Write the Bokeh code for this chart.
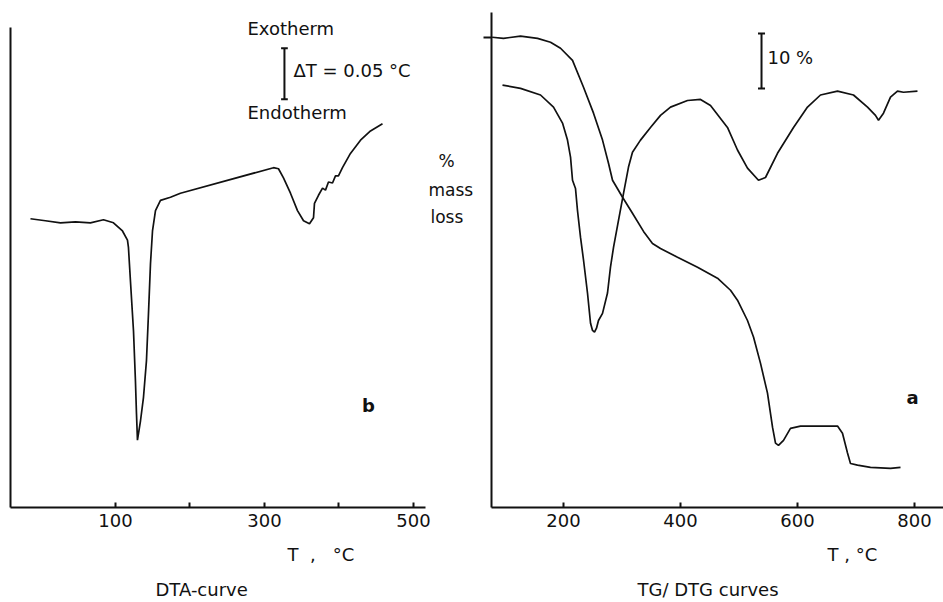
from bokeh.plotting import figure
from bokeh.layouts import row
from bokeh.models import Range1d, FixedTicker, Title
from bokeh.core.properties import value
from bokeh.embed import file_html
from bokeh.resources import INLINE

# ---------------- data: DTA curve (panel b) ----------------
dta_T = [-14.1, 6.0, 26.2, 46.3, 66.4, 83.9, 97.3, 109.4, 116.1, 117.4, 120.1, 124.2,
         126.8, 128.2, 129.5, 133.6, 137.6, 141.6, 144.3, 147.0, 149.7, 153.7, 160.4,
         173.8, 187.2, 312.1, 318.8, 325.5, 334.9, 344.3, 352.4, 360.4, 365.8, 367.1,
         372.5, 377.9, 381.9, 385.9, 391.3, 395.3, 399.3, 404.7, 415.4, 428.9, 442.3, 458.4]
dta_dT = [0.283, 0.281, 0.279, 0.280, 0.279, 0.282, 0.279, 0.271, 0.262, 0.255, 0.222, 0.173,
          0.124, 0.092, 0.066, 0.085, 0.108, 0.144, 0.190, 0.239, 0.271, 0.291, 0.301,
          0.304, 0.308, 0.333, 0.332, 0.323, 0.308, 0.291, 0.281, 0.278, 0.284, 0.298,
          0.306, 0.313, 0.311, 0.319, 0.318, 0.325, 0.325, 0.333, 0.347, 0.360, 0.369, 0.376]
dta_ticks = [100, 200, 300, 400, 500]
dta_tick_labels = {100: "100", 200: "", 300: "300", 400: "", 500: "500"}
dta_axis_T = (-40.9, 516.1)
dta_axis_dT = (0.0, 0.4706)

# ---------------- data: TG / DTG curves (panel a) ----------------
tg_T = [78, 97.4, 126.5, 155.6, 177.8, 194.9, 215.4, 234.2, 251.3, 266.7, 276.9, 283.8,
        300.9, 317.9, 336.8, 352.1, 365.8, 394.9, 429.1, 463.2, 485.5, 497.4, 514.5,
        524.8, 536.8, 548.7, 557.3, 562.4, 567.5, 576.1, 588.0, 605.1, 639.3, 668.4,
        676.9, 685.5, 690.6, 702.6, 724.8, 759.0, 776.1]
tg_mass = [100.0, 99.8, 100.2, 99.8, 99.1, 98.0, 95.8, 90.9, 86.2, 81.3, 77.1, 74.0,
           70.9, 68.0, 64.7, 62.5, 61.6, 60.0, 58.2, 56.2, 54.0, 52.2, 48.5,
           45.5, 40.7, 35.3, 29.1, 26.2, 25.8, 26.7, 28.9, 29.3, 29.3, 29.3,
           28.0, 24.4, 22.5, 22.2, 21.8, 21.6, 21.8]
dtg_T = [95.7, 126.5, 160.7, 182.9, 198.3, 206.8, 212.0, 215.4, 220.5, 223.9, 229.1, 234.2,
         241.0, 246.2, 249.6, 253.0, 256.4, 259.8, 266.7, 275.2, 280.3, 285.5, 294.0,
         302.6, 311.1, 317.9, 331.6, 348.7, 365.8, 382.9, 412.0, 434.2, 451.3, 480.3,
         497.4, 514.5, 533.3, 545.3, 565.8, 593.2, 617.1, 639.3, 668.4, 695.7, 719.7,
         733.3, 738.5, 747.0, 759.0, 770.9, 781.2, 805.1]
dtg_val = [91.3, 90.7, 89.5, 87.3, 84.4, 81.3, 78.2, 74.0, 72.5, 68.5, 63.6, 59.5,
           53.5, 48.0, 46.7, 46.4, 47.1, 48.5, 49.8, 53.5, 58.2, 61.8, 66.7,
           71.6, 76.4, 79.1, 81.3, 83.6, 85.8, 87.3, 88.5, 88.7, 87.6, 83.6,
           79.5, 76.2, 74.0, 74.5, 78.9, 83.6, 87.3, 89.5, 90.2, 89.5, 87.3,
           85.8, 84.9, 86.2, 89.1, 90.2, 90.0, 90.2]
tg_ticks = [200, 400, 600, 800]

# scale bars
DT_BAR = 0.05     # degC
MASS_BAR = 10.0   # %

FONT = "DejaVu Sans"
INK = "#111111"
NB = "\u00a0"


def style(p):
    p.grid.visible = False
    p.outline_line_color = None
    p.background_fill_color = "white"
    p.border_fill_color = "white"
    for ax in (p.xaxis[0], p.yaxis[0]):
        ax.axis_line_width = 2
        ax.axis_line_color = INK
        ax.major_tick_line_color = INK
        ax.major_tick_line_width = 2
        ax.minor_tick_line_color = None
        ax.major_label_text_font = FONT
        ax.major_label_text_color = INK
        ax.major_label_text_font_style = "normal"
    p.xaxis.major_tick_in = 5
    p.xaxis.major_tick_out = 0
    p.xaxis.major_label_text_font_size = "18px"
    p.xaxis.major_label_standoff = 6


def txt(p, x, y, text, size="18px", style_="normal", align="left"):
    p.text([x], [y], text=[text], text_font=value(FONT), text_font_size=value(size),
           text_font_style=style_, text_color=INK, text_align=align,
           text_baseline="middle")


def caption(p, text, offset, standoff):
    p.add_layout(Title(text=text, align="left", offset=offset, standoff=standoff,
                       text_font=FONT, text_font_size="18px", text_font_style="normal",
                       text_color=INK), "below")


# ---------------- left figure ----------------
p1 = figure(width=474, height=602, output_backend="svg", toolbar_location=None,
            x_range=Range1d(-40.9, 581.9), y_range=Range1d(0, 0.4851),
            min_border_left=10, min_border_right=0, min_border_top=12, min_border_bottom=95)
style(p1)
p1.xaxis.ticker = FixedTicker(ticks=dta_ticks)
p1.xaxis.major_label_overrides = dta_tick_labels
p1.xaxis.bounds = dta_axis_T
p1.yaxis.bounds = dta_axis_dT
p1.yaxis.ticker = FixedTicker(ticks=[])
p1.yaxis.major_tick_in = 0
p1.yaxis.major_tick_out = 0
p1.yaxis.major_label_standoff = 0
p1.line(dta_T, dta_dT, line_color=INK, line_width=1.7)

# delta T scale bar
bx, by0 = 326.8, 0.400
cap = 4.5
p1.segment([bx, bx - cap, bx - cap], [by0, by0, by0 + DT_BAR],
           [bx, bx + cap, bx + cap], [by0 + DT_BAR, by0, by0 + DT_BAR],
           line_color=INK, line_width=2)
txt(p1, 277.2, 0.469, "Exotherm")
txt(p1, 338.9, 0.428, "ΔT = 0.05 °C")
txt(p1, 277.2, 0.387, "Endotherm")
txt(p1, 439.6, 0.100, "b", style_="bold", align="center")
txt(p1, 544.3, 0.340, "%", size="17px", align="center")
txt(p1, 520.1, 0.311, "mass", size="17px")
txt(p1, 522.8, 0.285, "loss", size="17px")
caption(p1, "T" + NB * 2 + "," + NB * 3 + "°C", 277, 24)
caption(p1, "DTA-curve", 145, 0)

# ---------------- right figure ----------------
p2 = figure(width=469, height=602, output_backend="svg", toolbar_location=None,
            x_range=Range1d(76.9, 849.6), y_range=Range1d(14.5, 104.5),
            min_border_left=17, min_border_right=0, min_border_top=12, min_border_bottom=95)
style(p2)
p2.xaxis.ticker = FixedTicker(ticks=tg_ticks)
p2.yaxis.ticker = FixedTicker(ticks=[100])
p2.yaxis.major_label_overrides = {100: ""}
p2.yaxis.major_tick_out = 8
p2.yaxis.major_tick_in = 0
p2.yaxis.major_label_standoff = 0
p2.line(tg_T, tg_mass, line_color=INK, line_width=1.7)
p2.line(dtg_T, dtg_val, line_color=INK, line_width=1.7)

mx, my0 = 538.5, 90.7
cap2 = 6
p2.segment([mx, mx - cap2, mx - cap2], [my0, my0, my0 + MASS_BAR],
           [mx, mx + cap2, mx + cap2], [my0 + MASS_BAR, my0, my0 + MASS_BAR],
           line_color=INK, line_width=2)
txt(p2, 548.7, 96.4, "10 %")
txt(p2, 796.6, 34.5, "a", style_="bold", align="center")
caption(p2, "T , °C", 336, 24)
caption(p2, "TG/ DTG curves", 146, 0)

layout = row(p1, p2)
open("out.html", "w").write(file_html(layout, INLINE))
